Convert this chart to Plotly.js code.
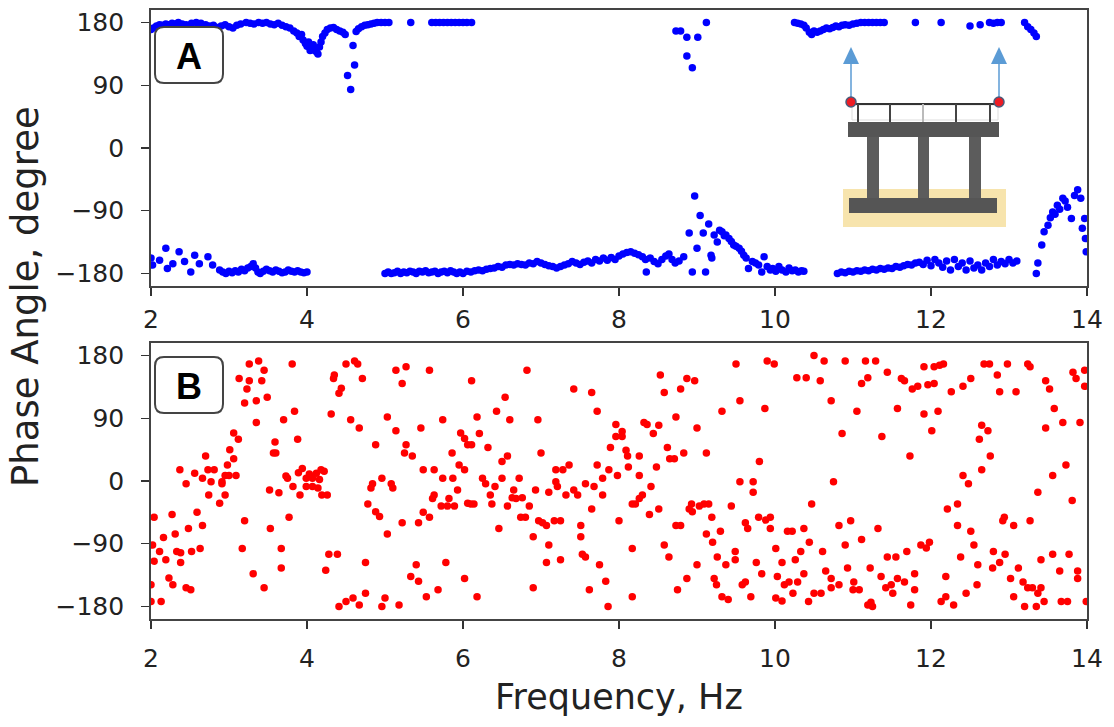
<!DOCTYPE html>
<html>
<head>
<meta charset="utf-8">
<script src="https://cdn.plot.ly/plotly-3.0.1.min.js"></script>
<style>html,body{margin:0;padding:0;background:#fff;}#chart{width:1114px;height:727px;}</style>
</head>
<body>
<div id="chart"></div>
<script>
// ---------- DATA (frequency Hz, phase angle degree) ----------
const xTicks = [2, 4, 6, 8, 10, 12, 14];
const yTicks = [180, 90, 0, -90, -180];
const yTickText = ['180', '90', '0', '\u221290', '\u2212180'];

// Panel A: upper branch (near +180)
const aUpper = [
 [2.00,170],[2.03,172],[2.07,175],[2.11,177],[2.15,176],[2.19,178],[2.23,177],[2.27,179],[2.31,178],[2.35,180],
 [2.40,178],[2.45,177],[2.52,179],[2.58,180],[2.64,179],[2.70,177],[2.75,175],[2.80,176],[2.85,173],[2.90,175],
 [2.95,177],[3.00,174],[3.05,172],[3.10,176],[3.15,178],[3.22,180],[3.27,179],[3.32,178],[3.38,180],[3.43,179],
 [3.48,180],[3.53,178],[3.58,177],[3.63,179],[3.68,176],[3.73,174],[3.78,172],[3.83,168],[3.87,165],[3.90,160],
 [3.93,163],[3.95,155],[3.98,150],[4.00,146],[4.02,152],[4.04,140],[4.06,144],[4.08,148],[4.10,140],[4.12,138],
 [4.14,135],[4.16,145],[4.18,152],[4.20,160],[4.23,165],[4.26,170],[4.30,172],[4.34,173],[4.38,170],[4.42,168],
 [4.46,166],[4.49,163],[4.52,104],[4.56,84],[4.59,147],[4.61,119],[4.63,167],[4.66,171],[4.70,174],[4.74,176],
 [4.78,177],[4.82,178],[4.86,179],[4.90,180],[4.95,180],[5.00,180],[5.05,180],[5.33,180],[5.60,180],[5.65,180],
 [5.70,180],[5.75,180],[5.80,180],[5.85,180],[5.90,180],[5.95,180],[6.00,180],[6.05,180],[6.11,180],
 [8.73,168],[8.79,168],[8.87,159],[8.87,132],[8.94,115],[9.01,159],[9.12,180],
 [10.25,180],[10.29,179],[10.33,178],[10.37,176],[10.40,172],[10.44,166],[10.47,163],[10.50,168],[10.54,166],
 [10.58,168],[10.62,170],[10.66,172],[10.70,171],[10.74,173],[10.78,175],[10.82,174],[10.86,176],[10.90,177],
 [10.95,176],[11.00,178],[11.05,179],[11.10,180],[11.15,180],[11.20,180],[11.25,180],[11.30,180],[11.35,180],
 [11.40,180],[11.80,180],[12.13,180],[12.50,175],[12.63,177],[12.75,180],[12.80,179],[12.85,180],[12.90,180],
 [13.20,180],[13.24,174],[13.28,170],[13.32,165],[13.35,160]
];

// Panel A: lower branch (near -180) and the excursions
const aLower = [
 [2.00,-158],[2.02,-168],[2.11,-161],[2.19,-144],[2.21,-173],[2.28,-166],[2.36,-149],[2.43,-163],[2.51,-178],
 [2.56,-154],[2.62,-166],[2.73,-156],[2.79,-168],[2.88,-175],[2.92,-178],[2.96,-180],[3.00,-177],[3.04,-179],
 [3.08,-176],[3.12,-178],[3.16,-174],[3.20,-176],[3.24,-172],[3.28,-170],[3.31,-166],[3.34,-172],[3.37,-178],
 [3.40,-180],[3.44,-177],[3.48,-174],[3.52,-176],[3.56,-178],[3.60,-175],[3.64,-177],[3.68,-179],[3.72,-178],
 [3.76,-175],[3.80,-177],[3.84,-178],[3.88,-176],[3.92,-178],[3.96,-179],[4.00,-178],
 [5.00,-180],[5.04,-178],[5.08,-180],[5.12,-179],[5.16,-177],[5.20,-180],[5.24,-178],[5.28,-179],[5.32,-177],
 [5.36,-178],[5.40,-180],[5.44,-177],[5.48,-178],[5.52,-176],[5.56,-179],[5.60,-178],[5.64,-177],[5.68,-180],
 [5.72,-178],[5.76,-177],[5.80,-179],[5.84,-176],[5.88,-178],[5.92,-180],[5.96,-178],
 [6.00,-180],[6.05,-177],[6.10,-178],[6.15,-176],[6.20,-175],[6.25,-176],[6.30,-174],[6.35,-173],[6.40,-172],
 [6.45,-170],[6.50,-171],[6.55,-168],[6.60,-167],[6.65,-168],[6.70,-166],[6.75,-167],[6.80,-168],[6.85,-165],
 [6.90,-166],[6.95,-163],[7.00,-165],[7.05,-167],[7.10,-169],[7.15,-170],[7.20,-172],[7.25,-170],[7.30,-168],
 [7.35,-166],[7.40,-163],[7.45,-165],[7.50,-167],[7.55,-164],[7.60,-162],[7.65,-165],[7.70,-160],[7.75,-162],
 [7.80,-158],[7.85,-161],[7.90,-157],[7.95,-160],[8.00,-155],[8.05,-152],[8.10,-150],[8.15,-149],[8.20,-151],
 [8.25,-153],[8.30,-156],[8.34,-160],[8.35,-178],[8.40,-158],[8.45,-163],[8.50,-166],[8.55,-160],[8.60,-155],
 [8.64,-152],[8.68,-160],[8.72,-165],[8.77,-162],[8.83,-156],
 [8.90,-122],[8.94,-178],[8.97,-69],[9.00,-144],[9.04,-97],[9.08,-122],[9.11,-178],[9.15,-109],[9.18,-154],
 [9.19,-158],[9.22,-125],[9.26,-135],[9.29,-118],[9.32,-120],[9.35,-126],[9.37,-125],[9.41,-130],[9.44,-134],
 [9.47,-139],[9.50,-141],[9.54,-144],[9.57,-148],[9.60,-154],[9.63,-158],[9.66,-173],[9.71,-163],[9.75,-165],
 [9.79,-168],[9.83,-178],[9.86,-156],[9.90,-170],[9.94,-175],[9.97,-173],[10.01,-177],[10.05,-170],[10.09,-175],
 [10.14,-178],[10.18,-172],[10.22,-176],[10.26,-175],[10.30,-178],[10.34,-176],[10.37,-177],
 [10.80,-180],[10.85,-178],[10.90,-179],[10.95,-177],[11.00,-178],[11.05,-176],[11.10,-177],[11.15,-175],
 [11.20,-176],[11.25,-174],[11.30,-175],[11.35,-173],[11.40,-174],[11.45,-172],[11.50,-173],[11.55,-170],
 [11.60,-171],[11.65,-169],[11.70,-167],[11.75,-168],[11.80,-165],[11.85,-164],[11.90,-167],[11.95,-161],
 [12.00,-169],[12.05,-160],[12.10,-165],[12.15,-171],[12.20,-162],[12.25,-175],[12.30,-160],[12.35,-170],
 [12.40,-165],[12.45,-175],[12.50,-162],[12.55,-172],[12.60,-168],[12.65,-175],[12.70,-165],[12.75,-170],
 [12.80,-160],[12.85,-168],[12.90,-163],[12.95,-166],[13.00,-160],[13.05,-165],[13.10,-162],
 [13.35,-180],[13.37,-165],[13.42,-139],[13.45,-120],[13.50,-111],[13.53,-100],[13.56,-92],[13.59,-95],
 [13.62,-82],[13.65,-88],[13.69,-72],[13.72,-76],[13.75,-85],[13.80,-101],[13.84,-68],[13.88,-60],[13.92,-72],
 [13.94,-115],[13.97,-101],[13.98,-130],[13.99,-149]
];

// Panel B: scattered phase
const bPoints = [
 [3.26,168],[3.38,172],[3.45,159],[3.13,147],[3.26,144],[3.42,144],[3.23,132],[3.20,112],[3.35,115],[3.49,120],
 [3.35,84],[3.81,168],[3.84,100],[3.70,88],[3.88,60],[3.59,56],[3.57,40],[3.60,40],[3.06,69],[3.12,60],
 [3.01,45],[3.06,32],[2.98,23],[2.70,36],[2.37,16],[2.56,11],[2.66,4],[2.73,16],[2.81,16],[2.77,-1],
 [2.91,-1],[2.95,8],[3.00,8],[3.09,8],[2.45,-4],[2.74,-20],[2.88,-32],[2.95,-20],[2.91,-4],[3.52,-13],
 [3.64,-17],[3.73,7],[3.75,4],[3.82,-8],[3.91,-20],[3.94,18],[3.89,12],[3.99,4],[4.03,10],[4.07,4],
 [4.12,11],[4.18,16],[4.16,2],[3.99,-8],[4.07,-8],[4.14,-10],[4.19,-20],[4.26,-20],[4.22,14],[3.20,-57],
 [3.53,-68],[3.77,-52],[3.17,-97],[3.67,-97],[3.67,-125],[3.31,-133],[3.45,-153],[2.04,-52],[2.27,-48],[2.59,-45],
 [2.66,-64],[2.48,-68],[2.31,-76],[2.16,-81],[2.02,-92],[2.04,-115],[2.11,-101],[2.19,-113],[2.33,-101],[2.38,-103],
 [2.38,-117],[2.52,-101],[2.63,-97],[2.23,-139],[2.28,-149],[2.45,-153],[2.51,-156],[2.00,-149],[2.00,-173],[2.13,-173],
 [4.31,96],[4.34,147],[4.35,152],[4.44,133],[4.41,126],[4.50,168],[4.61,172],[4.65,168],[4.71,147],[4.56,88],
 [4.67,76],[4.88,52],[5.03,92],[5.14,72],[5.14,159],[5.27,164],[5.22,140],[5.57,159],[5.46,76],[5.74,88],
 [5.27,52],[5.25,40],[5.35,36],[5.97,69],[6.02,61],[6.06,52],[5.86,40],[5.95,23],[6.02,16],[5.49,16],
 [5.63,16],[5.74,4],[5.87,4],[5.93,-13],[6.06,-32],[5.82,-25],[5.72,-36],[5.80,-36],[5.89,-36],[5.63,-20],
 [5.61,-25],[4.84,-4],[4.82,-10],[4.96,4],[5.08,-4],[5.10,-10],[4.78,-33],[4.88,-44],[4.93,-51],[5.22,-60],
 [5.43,-60],[5.49,-45],[5.57,-52],[5.03,-76],[4.28,-105],[4.39,-105],[4.24,-128],[4.75,-117],[5.40,-120],[5.33,-137],
 [5.43,-144],[5.78,-117],[6.02,-140],[5.68,-156],[5.53,-166],[4.41,-180],[4.50,-173],[4.59,-168],[4.67,-178],[4.75,-161],
 [4.96,-180],[5.00,-168],[5.18,-178],
 [6.82,159],[6.11,144],[6.54,120],[6.43,100],[6.18,92],[6.60,88],[6.96,88],[6.21,68],[6.11,52],[6.32,48],
 [6.50,28],[6.57,36],[7.00,40],[6.25,4],[6.29,-4],[6.50,4],[6.72,4],[6.41,-8],[6.35,-20],[6.37,-33],
 [6.10,-33],[6.14,-33],[6.65,-13],[6.68,-25],[6.63,-24],[6.76,-24],[6.57,-36],[6.85,-36],[6.93,-13],[6.46,-68],
 [6.74,-52],[6.80,-52],[6.97,-57],[7.02,-60],[7.07,-64],[7.17,-57],[7.25,-57],[7.10,-16],[7.19,-1],[7.21,-8],
 [7.19,16],[7.28,16],[7.36,23],[7.32,-20],[7.42,-13],[7.47,-20],[7.57,-4],[7.68,-8],[7.72,23],[7.79,4],
 [7.87,16],[7.79,-20],[7.98,8],[7.96,81],[7.96,64],[8.04,71],[8.04,64],[7.89,48],[8.09,44],[8.11,36],
 [8.26,36],[8.12,20],[8.26,8],[8.41,-8],[8.30,-20],[8.26,-25],[8.17,-33],[8.21,-33],[8.51,-40],[8.39,-48],
 [7.65,-40],[8.00,-57],[7.51,-64],[7.51,-80],[7.42,132],[7.65,127],[7.72,100],[8.32,84],[8.36,81],[8.51,80],
 [8.44,68],[8.48,20],[8.53,152],[8.58,127],[8.73,92],[8.87,147],[8.97,144],[8.79,132],[9.00,76],[8.62,48],
 [8.65,32],[8.71,32],[8.83,40],[9.12,40],[9.32,100],[9.55,115],[9.50,168],[9.87,104],[9.90,172],[9.99,168],
 [9.80,28],[9.55,-1],[9.72,-1],[9.72,-16],[9.44,-36],[8.93,-33],[8.94,-44],[9.03,-36],[9.09,-33],[9.15,-33],
 [8.90,-40],[9.19,-52],[8.73,-64],[8.79,-64],[9.12,-76],[9.30,-72],[9.20,-88],[9.62,-60],[9.65,-68],[9.79,-52],
 [9.88,-56],[9.94,-52],[9.94,-68],[10.16,-72],[7.10,-92],[6.90,-80],[7.07,-117],[7.25,-113],[7.53,-105],[7.57,-109],
 [7.75,-120],[8.17,-97],[8.58,-92],[8.64,-109],[9.00,-120],[9.26,-109],[9.49,-101],[9.49,-113],[9.37,-120],[9.76,-117],
 [10.01,-97],[10.09,-117],[9.83,-133],[10.03,-137],[10.12,-149],[6.18,-166],[6.90,-153],[7.62,-156],[7.83,-144],[7.86,-180],
 [8.17,-166],[8.75,-156],[8.87,-140],[9.22,-140],[9.25,-149],[9.32,-166],[9.40,-170],[9.58,-149],[9.62,-145],[9.69,-166],
 [10.01,-168],[10.09,-172],
 [10.50,180],[10.63,172],[10.90,172],[11.16,172],[11.29,172],[10.28,148],[10.40,148],[10.58,144],[10.72,115],[11.05,100],
 [11.11,140],[11.19,148],[11.44,156],[11.62,147],[11.66,144],[11.76,132],[11.83,136],[11.91,164],[12.04,164],[12.11,166],
 [12.16,168],[11.96,138],[12.04,140],[12.26,128],[12.41,136],[12.51,147],[12.68,168],[12.75,168],[12.98,168],[13.24,168],
 [13.27,164],[12.85,152],[12.88,128],[13.09,128],[13.47,144],[13.52,132],[13.82,156],[13.86,147],[13.97,159],[13.97,136],
 [13.58,104],[13.69,84],[13.91,84],[13.47,76],[11.57,104],[11.91,96],[12.09,100],[12.01,72],[10.86,68],[11.37,64],
 [11.73,36],[12.65,80],[12.73,72],[12.62,60],[12.76,36],[12.65,16],[12.41,8],[12.48,-4],[13.73,23],[13.56,8],
 [13.37,-16],[13.81,-28],[10.75,-1],[10.47,-33],[12.21,-40],[12.34,-33],[12.34,-64],[12.51,-72],[12.55,-92],[12.92,-57],
 [12.94,-52],[13.06,-64],[13.27,-57],[10.82,-64],[10.97,-57],[11.32,-68],[10.22,-72],[10.37,-68],[10.44,-88],[10.33,-101],
 [10.61,-101],[10.90,-92],[11.11,-84],[11.44,-109],[11.55,-109],[11.69,-101],[11.87,-92],[11.94,-96],[11.98,-88],[12.38,-109],
 [12.60,-120],[12.80,-101],[12.95,-105],[12.79,-125],[12.88,-117],[13.12,-125],[13.41,-113],[13.56,-105],[13.77,-105],[13.65,-129],
 [13.88,-129],[13.88,-140],[10.26,-113],[10.37,-133],[10.65,-129],[10.72,-140],[10.82,-149],[10.93,-125],[11.01,-145],[11.22,-125],
 [11.36,-137],[11.42,-153],[11.49,-149],[11.57,-140],[11.66,-145],[11.79,-133],[11.79,-156],[12.19,-137],[11.00,-156],[11.08,-156],
 [10.72,-153],[10.50,-161],[10.59,-161],[10.43,-173],[10.23,-161],[10.29,-145],[10.18,-145],[11.19,-178],[11.23,-174],[11.25,-180],
 [11.51,-161],[11.74,-178],[12.13,-173],[12.19,-166],[12.29,-178],[12.45,-161],[12.59,-149],[13.02,-140],[13.06,-166],[13.18,-145],
 [13.24,-153],[13.20,-180],[13.35,-180],[13.30,-153],[13.41,-153],[13.37,-161],[13.45,-173],[13.67,-173],[13.75,-173],[13.99,-173]
];

// ---------- FIGURE ----------
const W = 1114, H = 727;
const M = {l: 151, r: 27, t: 10, b: 108};
const plotW = W - M.l - M.r, plotH = H - M.t - M.b;
// helpers to place decorations by figure pixel
const px = v => (v - M.l) / plotW;
const py = v => (H - M.b - v) / plotH;

const aAll = aUpper.concat(aLower);
const traces = [
  {x: aAll.map(p => p[0]), y: aAll.map(p => p[1]), xaxis: 'x', yaxis: 'y',
   type: 'scatter', mode: 'markers', marker: {color: '#0000ff', size: 7.5}, hoverinfo: 'x+y'},
  {x: bPoints.map(p => p[0]), y: bPoints.map(p => p[1]), xaxis: 'x2', yaxis: 'y2',
   type: 'scatter', mode: 'markers', marker: {color: '#ff0000', size: 7.5}, hoverinfo: 'x+y'}
];

const tickFont = {family: 'DejaVu Sans', size: 25, color: '#222'};
const xBase = {
  range: [2, 14], tickvals: xTicks, ticktext: xTicks.map(String),
  ticks: 'outside', ticklen: 8, tickwidth: 1.5, tickcolor: '#333',
  showline: true, linecolor: '#444', linewidth: 1.8, mirror: true,
  showgrid: false, zeroline: false, tickfont: tickFont
};
const yBase = {
  range: [-198, 198], tickvals: yTicks, ticktext: yTickText,
  ticks: 'outside', ticklen: 8, tickwidth: 1.5, tickcolor: '#333',
  showline: true, linecolor: '#444', linewidth: 1.8, mirror: true,
  showgrid: false, zeroline: false, tickfont: tickFont, ticklabelstandoff: 12
};

const topA = py(10), botA = py(286), topB = py(343), botB = py(619);

function roundRect(x0, y0, x1, y1, r) {
  // pixel coords -> paper path with rounded corners
  const X = v => px(v).toFixed(5), Y = v => py(v).toFixed(5);
  return 'M' + X(x0 + r) + ',' + Y(y0) + ' L' + X(x1 - r) + ',' + Y(y0) +
    ' Q' + X(x1) + ',' + Y(y0) + ' ' + X(x1) + ',' + Y(y0 + r) +
    ' L' + X(x1) + ',' + Y(y1 - r) + ' Q' + X(x1) + ',' + Y(y1) + ' ' + X(x1 - r) + ',' + Y(y1) +
    ' L' + X(x0 + r) + ',' + Y(y1) + ' Q' + X(x0) + ',' + Y(y1) + ' ' + X(x0) + ',' + Y(y1 - r) +
    ' L' + X(x0) + ',' + Y(y0 + r) + ' Q' + X(x0) + ',' + Y(y0) + ' ' + X(x0 + r) + ',' + Y(y0) + ' Z';
}
function rect(x0, y0, x1, y1, fill, line) {
  return {type: 'rect', xref: 'paper', yref: 'paper', layer: 'above',
    x0: px(x0), x1: px(x1), y0: py(y1), y1: py(y0),
    fillcolor: fill, line: line || {width: 0}};
}
function seg(x0, y0, x1, y1, color, w) {
  return {type: 'line', xref: 'paper', yref: 'paper', layer: 'above',
    x0: px(x0), x1: px(x1), y0: py(y0), y1: py(y1), line: {color: color, width: w}};
}
function tri(cx, ytop, ybase, half, color) {
  return {type: 'path', xref: 'paper', yref: 'paper', layer: 'above',
    path: 'M' + px(cx - half) + ',' + py(ybase) + ' L' + px(cx + half) + ',' + py(ybase) + ' L' + px(cx) + ',' + py(ytop) + ' Z',
    fillcolor: color, line: {width: 0}};
}
function dot(cx, cy, r) {
  return {type: 'circle', xref: 'paper', yref: 'paper', layer: 'above',
    x0: px(cx - r), x1: px(cx + r), y0: py(cy + r), y1: py(cy - r),
    fillcolor: '#ee1c24', line: {color: '#4a5a7a', width: 1.5}};
}

const shapes = [
  // label boxes
  {type: 'path', xref: 'paper', yref: 'paper', layer: 'above', path: roundRect(155, 27, 223, 83, 9),
   fillcolor: '#ffffff', line: {color: '#444', width: 2}},
  {type: 'path', xref: 'paper', yref: 'paper', layer: 'above', path: roundRect(155, 357, 223, 413, 9),
   fillcolor: '#ffffff', line: {color: '#444', width: 2}},
  // inset: bridge bent sketch
  rect(843, 189, 1006, 227, '#f7e4ad'),
  rect(849, 198, 997, 213, '#555555'),
  rect(867, 136, 879, 198, '#5c5c5c'),
  rect(918, 136, 929, 198, '#5c5c5c'),
  rect(969, 136, 981, 198, '#5c5c5c'),
  rect(848, 122, 999, 137, '#555555'),
  rect(852, 105, 998, 120, 'rgba(0,0,0,0)', {color: '#dddddd', width: 1}),
  seg(850, 104, 1000, 104, '#333', 2),
  seg(858, 104, 858, 122, '#444', 2),
  seg(890, 104, 890, 122, '#444', 2),
  seg(923, 104, 923, 122, '#bbbbbb', 2),
  seg(956, 104, 956, 122, '#444', 2),
  seg(990, 104, 990, 122, '#444', 2),
  seg(851, 102, 851, 62, '#5b9bd5', 1.5),
  seg(999, 102, 999, 62, '#5b9bd5', 1.5),
  tri(851, 47, 64, 8, '#5b9bd5'),
  tri(999, 47, 64, 8, '#5b9bd5'),
  dot(851, 102, 5),
  dot(999, 102, 5)
];

const annotations = [
  {text: '<b>A</b>', xref: 'paper', yref: 'paper', x: px(189), y: py(56), showarrow: false,
   font: {family: 'Liberation Sans', size: 36, color: '#000'}, xanchor: 'center', yanchor: 'middle'},
  {text: '<b>B</b>', xref: 'paper', yref: 'paper', x: px(189), y: py(386), showarrow: false,
   font: {family: 'Liberation Sans', size: 36, color: '#000'}, xanchor: 'center', yanchor: 'middle'},
  {text: 'Phase Angle, degree', xref: 'paper', yref: 'paper', x: px(25), y: py(297), textangle: -90,
   showarrow: false, xanchor: 'center', yanchor: 'middle',
   font: {family: 'DejaVu Sans', size: 37, color: '#222'}},
  {text: 'Frequency, Hz', xref: 'paper', yref: 'paper', x: px(619), y: py(697), showarrow: false,
   xanchor: 'center', yanchor: 'middle', font: {family: 'DejaVu Sans', size: 35, color: '#222'}}
];

const layout = {
  width: W, height: H, margin: M, showlegend: false,
  paper_bgcolor: '#fff', plot_bgcolor: '#fff',
  xaxis: Object.assign({}, xBase, {anchor: 'y', domain: [0, 1], ticklabelstandoff: 2}),
  yaxis: Object.assign({}, yBase, {anchor: 'x', domain: [botA, topA]}),
  xaxis2: Object.assign({}, xBase, {anchor: 'y2', domain: [0, 1], ticklabelstandoff: 8}),
  yaxis2: Object.assign({}, yBase, {anchor: 'x2', domain: [botB, topB]}),
  shapes: shapes, annotations: annotations
};

Plotly.newPlot('chart', traces, layout, {displayModeBar: false, staticPlot: true});
</script>
</body>
</html>
